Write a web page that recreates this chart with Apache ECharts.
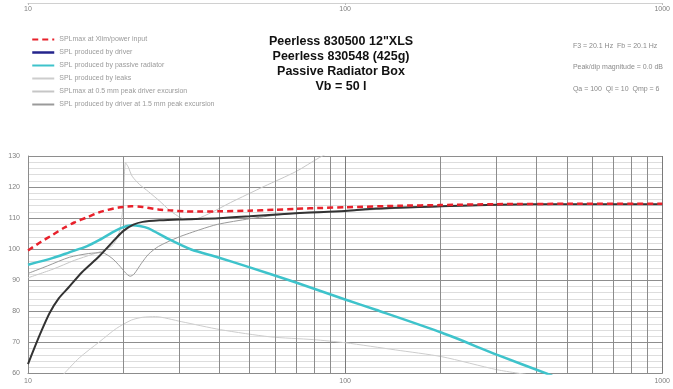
<!DOCTYPE html>
<html><head><meta charset="utf-8">
<script src="https://cdn.jsdelivr.net/npm/echarts@6/dist/echarts.min.js"></script>
<style>html,body{margin:0;padding:0;background:#fff}#c{width:673px;height:389px}</style>
</head><body><div id="c"></div>
<script>
// ---- data (frequency in Hz, level in dB SPL) ----
var titleLines = ['Peerless 830500 12"XLS', 'Peerless 830548 (425g)', 'Passive Radiator Box', 'Vb = 50 l'];
var infoLines = ['F3 = 20.1 Hz  Fb = 20.1 Hz', 'Peak/dip magnitude = 0.0 dB', 'Qa = 100  Ql = 10  Qmp = 6'];
var names = ['SPLmax at Xlim/power input', 'SPL produced by driver', 'SPL produced by passive radiator',
             'SPL produced by leaks', 'SPLmax at 0.5 mm peak driver excursion', 'SPL produced by driver at 1.5 mm peak excursion'];
var yTicks = [60, 70, 80, 90, 100, 110, 120, 130];
var minorFreqs = [20, 30, 40, 50, 60, 70, 80, 90, 200, 300, 400, 500, 600, 700, 800, 900];

var splMaxF = [10, 11, 12, 13, 14, 15.3, 17, 19.3, 21.2, 23, 25.8, 28, 31.3, 35, 39.6, 50, 60, 70, 85, 100, 150, 200, 300, 500, 1000];
var splMaxV = [99.6, 102.4, 104.7, 106.9, 108.6, 110.2, 112.1, 113.4, 113.8, 113.6, 112.8, 112.5, 112.2, 112.1, 112.2, 112.4, 112.7, 113.0, 113.3, 113.5, 114.0, 114.2, 114.5, 114.6, 114.6];

var driverF = [10, 10.5, 11, 11.7, 12.5, 13.4, 14.8, 16.8, 18.9, 20, 21.5, 23, 26, 30, 40, 50, 70, 100, 125, 200, 300, 500, 1000];
var driverV = [63.0, 68.5, 73.5, 79.5, 84.2, 87.6, 92.6, 97.8, 103.4, 105.9, 107.9, 108.8, 109.3, 109.6, 110.0, 110.6, 111.6, 112.3, 113.1, 113.8, 114.3, 114.5, 114.5];

var prF = [10, 12, 13.5, 15.3, 16.8, 18.9, 20, 21.2, 22.5, 24, 27.7, 32.7, 39.6, 49.2, 70, 100, 125, 202, 302, 450];
var prV = [95.0, 97.2, 99.0, 100.9, 103.0, 106.0, 107.1, 107.7, 107.5, 106.7, 103.3, 99.9, 97.4, 94.4, 89.3, 83.8, 80.5, 73.1, 66.0, 59.3];

var leaksF = [12.9, 14.5, 16.8, 19, 21.2, 23, 25.2, 30.4, 40.5, 58, 79.5, 100, 144, 202, 302, 390];
var leaksV = [59.6, 65.0, 70.2, 74.5, 77.2, 78.1, 78.3, 76.7, 74.1, 71.8, 70.9, 69.9, 67.6, 65.4, 61.2, 59.4];

var xmaxF = [10, 12, 14, 16, 17.5, 18.6, 19.4, 19.9, 20.3, 20.7, 21.3, 22.5, 24, 26, 28, 30.5, 33, 37, 43.5, 55.5, 70, 83, 95];
var xmaxV = [90.8, 93.6, 96.4, 98.4, 99.8, 101.6, 105.5, 113, 127.8, 126.5, 123.5, 120.8, 118.5, 115.5, 112.5, 110, 109.5, 111.3, 115.0, 120.2, 125.0, 129.5, 132.5];

var drvExcF = [10, 11.5, 13.5, 15.5, 17.1, 18.4, 19.5, 20.3, 21, 21.6, 22.8, 24, 25.8, 29.7, 35.1, 39.6, 50, 61, 77, 100, 150, 200, 300, 500, 1000];
var drvExcV = [92.2, 94.6, 97.4, 98.6, 98.9, 97.1, 94.5, 92.4, 91.3, 92.0, 95.5, 98.4, 100.9, 103.8, 106.4, 108.0, 109.8, 111.0, 111.9, 112.3, 113.2, 113.7, 114.2, 114.4, 114.4];

function zip(f, v) { return f.map(function (x, i) { return [x, v[i]]; }); }

var chart = echarts.init(document.getElementById('c'), null, {renderer: 'canvas'});
var lbl = {fontSize: 7, color: '#808080', fontFamily: 'Liberation Sans', formatter: function (v) { return String(v); }};

function lineSeries(name, f, v, color, width, type, z) {
  return {
    name: name, type: 'line', data: zip(f, v), showSymbol: false, symbol: 'none',
    smooth: 0.25, clip: true, z: z, silent: true,
    lineStyle: {color: color, width: width, type: type || 'solid'},
    itemStyle: {color: color}
  };
}

var series = [
  lineSeries(names[3], leaksF, leaksV, '#cdcdcd', 1, 'solid', 3),
  lineSeries(names[4], xmaxF, xmaxV, '#c6c6c6', 1, 'solid', 3),
  lineSeries(names[5], drvExcF, drvExcV, '#9a9a9a', 1, 'solid', 4),
  lineSeries(names[2], prF, prV, '#3ec3cb', 2.5, 'solid', 5),
  lineSeries(names[1], driverF, driverV, '#333333', 2, 'solid', 6),
  lineSeries(names[0], splMaxF, splMaxV, '#e8212b', 2.5, [6, 4], 7),
  {
    type: 'line', data: [], silent: true, z: 1,
    markLine: {
      silent: true, symbol: ['none', 'none'], label: {show: false},
      lineStyle: {color: '#8c8c8c', width: 1, type: 'solid'},
      data: minorFreqs.map(function (f) { return {xAxis: f}; })
    }
  }
];

chart.setOption({
  animation: false,
  backgroundColor: '#ffffff',
  title: {
    text: titleLines.join('\n'), left: 336, top: 29, textAlign: 'center',
    textStyle: {fontSize: 12.5, fontWeight: 'bold', color: '#111', lineHeight: 15, fontFamily: 'Liberation Sans'}
  },
  graphic: [{
    type: 'text', right: 10, top: 35,
    style: {text: infoLines.join('\n'), fontSize: 7, lineHeight: 21.5, fill: '#8a8a8a', align: 'right', fontFamily: 'Liberation Sans'}
  }],
  legend: {
    orient: 'vertical', left: 26, top: 31, itemWidth: 22, itemHeight: 8, itemGap: 6,
    itemStyle: {opacity: 0, borderWidth: 0},
    textStyle: {fontSize: 7, color: '#9a9a9a', fontFamily: 'Liberation Sans'},
    data: [
      {name: names[0]},
      {name: names[1], lineStyle: {color: '#24248c', width: 2.5}},
      {name: names[2]},
      {name: names[3]},
      {name: names[4]},
      {name: names[5]}
    ]
  },
  grid: [
    {left: 28, right: 3, top: 156, bottom: 15.5, containLabel: false},
    {left: 28, right: 3, top: 2, height: 1}
  ],
  xAxis: [{
    type: 'log', logBase: 10, min: 10, max: 1000, gridIndex: 0,
    axisLine: {show: true, lineStyle: {color: '#8c8c8c'}},
    axisTick: {show: false},
    axisLabel: Object.assign({margin: 4}, lbl),
    splitLine: {show: true, lineStyle: {color: '#7a7a7a', width: 1}}
  }, {
    type: 'log', logBase: 10, min: 10, max: 1000, gridIndex: 1, position: 'bottom',
    axisLine: {show: true, lineStyle: {color: '#d0d0d0'}},
    axisTick: {show: true, length: 2, lineStyle: {color: '#bbb'}},
    axisLabel: Object.assign({margin: 3}, lbl),
    splitLine: {show: false}
  }],
  yAxis: [{
    type: 'value', min: 60, max: 130, interval: 10, gridIndex: 0,
    axisLine: {show: true, lineStyle: {color: '#8c8c8c'}},
    axisTick: {show: false},
    axisLabel: Object.assign({margin: 8}, lbl),
    splitLine: {show: true, lineStyle: {color: '#8e8e8e', width: 1}},
    minorTick: {show: false, splitNumber: 5},
    minorSplitLine: {show: true, lineStyle: {color: '#dddddd', width: 1}}
  }, {
    type: 'value', gridIndex: 1, show: false, min: 0, max: 1
  }],
  series: series
});
</script></body></html>
